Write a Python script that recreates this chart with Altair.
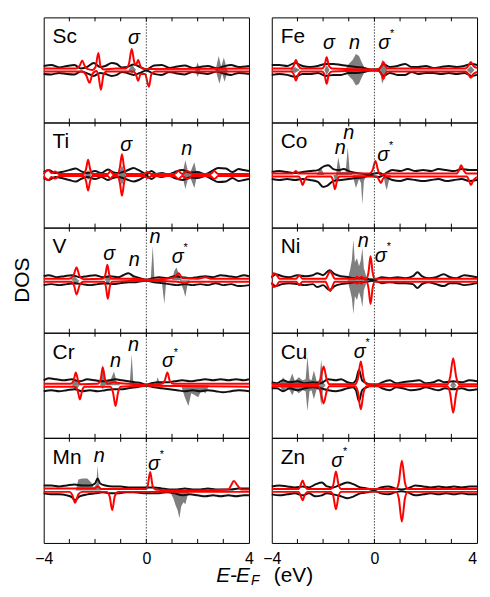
import altair as alt
import pandas as pd

FONT = "Liberation Sans"

LEFT = ["Sc", "Ti", "V", "Cr", "Mn"]
RIGHT = ["Fe", "Co", "Ni", "Cu", "Zn"]
SIDE_TEXT = ["", "", "DOS", "", ""]
E_TICKS = [-3, -2, -1, 0, 1, 2, 3]
E_LABELS = [-4, 0, 4]
FERMI = [0.0]

# ---------------- Sc ----------------
SC_BLK_UP = [[-4,4],[-3.7,5],[-3.4,2.5],[-3.1,4],[-2.8,5],[-2.55,1.5],[-2.3,3],[-2.05,7],[-1.8,3],[-1.6,4],[-1.35,7],[-1.15,6],[-0.95,2.5],[-0.75,3],[-0.5,5.5],[-0.25,3],[0,0.5],[0.3,4.5],[0.6,5],[0.9,2],[1.2,3.5],[1.5,4.5],[1.8,2],[2.1,3],[2.4,4],[2.75,1.5],[3.0,3.5],[3.3,5],[3.6,3],[4,4]]
SC_BLK_DN = [[-4,-4],[-3.7,-4.5],[-3.4,-3],[-3.1,-4],[-2.8,-4.5],[-2.55,-1.5],[-2.3,-3.5],[-2.05,-6],[-1.8,-3],[-1.6,-4],[-1.35,-6],[-1.15,-5],[-0.95,-2],[-0.75,-3],[-0.5,-5],[-0.25,-3],[0,-0.5],[0.3,-4],[0.6,-5],[0.9,-2],[1.2,-3.5],[1.5,-4.5],[1.8,-2],[2.1,-3],[2.4,-4],[2.75,-1.5],[3.0,-3.5],[3.3,-5],[3.6,-3],[4,-4]]
SC_RED_UP = [[-4,1.5],[-2.75,1.5],[-2.6,4],[-2.5,9.5],[-2.4,4],[-2.3,1],[-2.1,0],[-1.98,3],[-1.87,17],[-1.78,3],[-1.65,0.5],[-1.2,1.5],[-0.8,1.5],[-0.68,6],[-0.57,21],[-0.47,8],[-0.4,5],[-0.32,10],[-0.22,3],[-0.1,1],[4,1.5]]
SC_RED_DN = [[-4,-1.5],[-2.5,-1.5],[-2.35,-5],[-2.21,-13],[-2.1,-4],[-1.95,-1],[-1.87,-5],[-1.77,-20],[-1.67,-5],[-1.55,-1.5],[-0.5,-1.5],[-0.4,-5],[-0.32,-11],[-0.22,-4],[-0.05,-4],[0.1,-17],[0.2,-4],[0.35,-1.5],[4,-1.5]]
SC_GRAY_UP = [[-0.7,0],[-0.55,5],[-0.4,0],[1.9,0],[2.0,7.5],[2.1,0],[2.7,0],[2.82,14],[2.92,3],[3.02,12.5],[3.15,0]]
SC_GRAY_DN = [[-0.7,0],[-0.55,-4],[-0.4,0],[1.9,0],[2.0,-7],[2.1,0],[2.7,0],[2.85,-14],[2.95,-3],[3.05,-12],[3.18,0]]

# ---------------- Ti ----------------
TI_BLK_UP = [[-4,3],[-3.8,5],[-3.55,2],[-3.3,3],[-3.0,5],[-2.75,6.5],[-2.55,4],[-2.3,2],[-2.0,4],[-1.75,2],[-1.5,5.5],[-1.3,3],[-1.1,2],[-0.8,4],[-0.5,7],[-0.3,5],[-0.1,2],[0,0.5],[0.2,4],[0.4,1],[0.6,2],[0.85,0.5],[1.1,3],[1.4,5],[1.7,2.5],[2.0,3],[2.3,1],[2.55,4],[2.8,7],[3.1,6.5],[3.35,3],[3.6,6],[3.8,5],[4,4]]
TI_BLK_DN = [[-4,-3],[-3.8,-5],[-3.55,-2],[-3.3,-3],[-3.0,-5],[-2.75,-6.5],[-2.55,-4],[-2.3,-2],[-2.0,-4],[-1.75,-2],[-1.5,-5],[-1.3,-3],[-1.1,-2],[-0.8,-4],[-0.5,-6.5],[-0.3,-5],[-0.1,-2],[0,-0.5],[0.2,-4],[0.4,-1],[0.6,-2],[0.85,-0.5],[1.1,-3],[1.4,-5],[1.7,-2.5],[2.0,-3],[2.3,-1],[2.55,-4],[2.8,-7],[3.1,-6.5],[3.35,-3],[3.6,-6],[3.8,-5],[4,-4]]
TI_RED_UP = [[-4,1],[-3.9,4],[-3.8,5],[-3.7,2],[-3.55,3.5],[-3.4,1],[-2.45,1],[-2.35,6],[-2.27,15.5],[-2.19,6],[-2.1,1],[-1.5,1],[-1.4,4],[-1.3,1],[-1.12,1],[-1.03,8],[-0.95,21],[-0.87,8],[-0.78,1],[-0.1,1],[0.05,3],[0.2,1],[1.1,1],[1.25,4],[1.4,1],[1.6,4],[1.8,1],[2.5,1],[2.65,4],[2.8,1],[4,1]]
TI_RED_DN = [[-4,-1],[-3.9,-4],[-3.8,-5],[-3.7,-2],[-3.55,-3.5],[-3.4,-1],[-2.45,-1],[-2.35,-6],[-2.27,-15.7],[-2.19,-6],[-2.1,-1],[-1.5,-1],[-1.4,-4],[-1.3,-1],[-1.12,-1],[-1.03,-8],[-0.95,-21],[-0.87,-8],[-0.78,-1],[-0.1,-1],[0.05,-3],[0.2,-1],[1.1,-1],[1.25,-4],[1.4,-1],[1.6,-4],[1.8,-1],[2.5,-1],[2.65,-4],[2.8,-1],[4,-1]]
TI_GRAY_UP = [[-2.4,0],[-2.27,5],[-2.15,0],[-1.1,0],[-0.95,10],[-0.8,0],[1.4,0],[1.52,15],[1.62,4],[1.72,3],[1.87,13],[1.98,0]]
TI_GRAY_DN = [[-2.4,0],[-2.27,-5],[-2.15,0],[-1.1,0],[-0.95,-10],[-0.8,0],[1.4,0],[1.52,-14],[1.62,-4],[1.72,-3],[1.87,-13],[1.98,0]]

# ---------------- V ----------------
V_BLK_UP = [[-4,4],[-3.8,5],[-3.5,3],[-3.2,4],[-2.9,5],[-2.6,3],[-2.3,4],[-2.0,5],[-1.7,3],[-1.4,4],[-1.1,3],[-0.9,5],[-0.7,7],[-0.5,4],[-0.25,2],[0,0.5],[0.25,2],[0.5,3],[0.8,2],[1.1,4],[1.4,3],[1.7,2],[2.0,3],[2.3,4],[2.6,3],[2.9,5],[3.2,4],[3.5,3],[3.8,5],[4,4]]
V_BLK_DN = [[-4,-5],[-3.7,-4],[-3.4,-5],[-3.1,-4],[-2.8,-3],[-2.5,-4],[-2.2,-5],[-1.9,-4],[-1.6,-3],[-1.3,-4],[-1.0,-3],[-0.7,-2],[-0.4,-2],[0,-0.5],[0.3,-2],[0.6,-3],[0.9,-4],[1.2,-5],[1.5,-4],[1.8,-5],[2.1,-4],[2.4,-5],[2.7,-3],[3.0,-5],[3.3,-4],[3.6,-6],[4,-5]]
V_RED_UP = [[-4,1.5],[-3.0,1.5],[-2.85,4],[-2.72,12.8],[-2.6,4],[-2.45,1],[-1.7,1.5],[-1.6,5],[-1.52,15.5],[-1.44,5],[-1.35,1.5],[-0.5,1.5],[0,0.5],[0.8,1.5],[1.1,3],[1.26,7],[1.4,2],[2.0,1.5],[2.3,3],[2.5,1.5],[4,1.5]]
V_RED_DN = [[-4,-1.5],[-2.95,-1.5],[-2.82,-5],[-2.72,-14.5],[-2.6,-5],[-2.45,-1.5],[-1.65,-1.5],[-1.58,-6],[-1.5,-18.8],[-1.42,-6],[-1.32,-1.5],[0,-0.5],[1.2,-1.5],[1.5,-3],[1.7,-1.5],[4,-1.5]]
V_GRAY_UP = [[-2.95,0],[-2.8,4],[-2.65,0],[-1.65,0],[-1.5,5],[-1.35,0],[-0.65,0],[-0.5,4],[-0.35,0],[0.17,0],[0.25,34.5],[0.32,0],[1.0,0],[1.1,10],[1.18,12.8],[1.3,3],[1.4,0]]
V_GRAY_DN = [[-2.9,0],[-2.75,-5],[-2.6,0],[-1.6,0],[-1.5,-6],[-1.4,0],[0.6,0],[0.7,-24],[0.78,0],[1.3,0],[1.45,-10],[1.52,-17],[1.6,-5],[1.7,0]]

# ---------------- Cr ----------------
CR_BLK_UP = [[-4,5],[-3.8,7],[-3.5,6],[-3.2,5],[-2.9,6],[-2.6,4],[-2.3,6],[-2.0,5],[-1.7,4],[-1.45,5],[-1.2,6],[-0.95,5],[-0.7,4],[-0.45,3],[-0.2,2],[0,0.5],[0.2,2],[0.5,3],[0.8,3],[1.1,4],[1.4,5],[1.7,4],[2.0,5],[2.3,6],[2.6,5],[2.9,6],[3.2,5],[3.5,6],[3.8,5],[4,6]]
CR_BLK_DN = [[-4,-6],[-3.7,-5],[-3.4,-6],[-3.1,-5],[-2.8,-4],[-2.5,-6],[-2.2,-5],[-1.9,-6],[-1.6,-5],[-1.3,-4],[-1.0,-4],[-0.7,-3],[-0.4,-2],[0,-0.5],[0.3,-2],[0.6,-3],[0.9,-4],[1.2,-5],[1.5,-6],[1.8,-5],[2.1,-6],[2.4,-5],[2.7,-6],[3.0,-7],[3.3,-6],[3.6,-5],[4,-6]]
CR_RED_UP = [[-4,1.5],[-2.95,1.5],[-2.83,5],[-2.75,13],[-2.65,4],[-2.55,1],[-1.9,1.5],[-1.78,6],[-1.7,18.3],[-1.6,5],[-1.5,1.5],[-1.3,3],[-1.0,2],[-0.6,1.5],[0,0.5],[0.6,1.5],[0.72,5],[0.82,13],[0.92,4],[1.05,1.5],[4,1.5]]
CR_RED_DN = [[-4,-1.5],[-2.8,-1.5],[-2.68,-5],[-2.59,-14.3],[-2.5,-5],[-2.4,-1.5],[-1.4,-1.5],[-1.3,-7],[-1.2,-21],[-1.1,-7],[-1.0,-1.5],[0,-0.5],[4,-1.5]]
CR_GRAY_UP = [[-2.9,0],[-2.8,5],[-2.65,3],[-2.55,0],[-1.8,0],[-1.7,20.7],[-1.6,3],[-1.4,5],[-1.26,14],[-1.15,3],[-1.0,0],[-0.65,0],[-0.57,30.7],[-0.5,0],[0.35,0],[0.44,8],[0.55,0]]
CR_GRAY_DN = [[-2.9,0],[-2.75,-5],[-2.6,0],[-1.8,0],[-1.7,-4],[-1.6,0],[1.35,0],[1.5,-12],[1.64,-21],[1.75,-8],[1.9,-10],[2.02,-12],[2.15,-5],[2.3,-8],[2.45,0]]

# ---------------- Mn ----------------
MN_BLK_UP = [[-4,5],[-3.7,5],[-3.4,4],[-3.1,5],[-2.8,6],[-2.5,5],[-2.2,5],[-2.0,7],[-1.9,12],[-1.8,7],[-1.6,5],[-1.3,4],[-1.0,4],[-0.7,3],[-0.4,3],[0,3],[0.3,3],[0.6,2],[0.9,1],[1.2,1],[1.5,2],[1.8,1],[2.1,1],[2.4,2],[2.7,1],[3.0,1],[3.3,1],[3.6,2],[4,2]]
MN_BLK_DN = [[-4,-3],[-3.7,-4],[-3.4,-4],[-3.1,-5],[-2.9,-7],[-2.78,-10],[-2.6,-6],[-2.3,-4],[-2.0,-3],[-1.7,-2],[-1.4,-3],[-1.1,-3],[-0.8,-2],[-0.5,-2],[0,-3],[0.4,-3],[0.8,-2],[1.1,-3],[1.4,-5],[1.7,-4],[2.0,-5],[2.3,-6],[2.6,-5],[2.9,-6],[3.2,-5],[3.5,-6],[3.8,-5],[4,-5]]
MN_RED_UP = [[-4,2],[-2.0,2],[-1.9,4],[-1.75,1.5],[0,1.5],[0.05,4],[0.15,18.6],[0.25,4],[0.35,1],[1.0,0],[2.0,0],[3.2,1],[3.3,5],[3.41,9.6],[3.55,5],[3.7,1],[4,1]]
MN_RED_DN = [[-4,-1.5],[-3.0,-1.5],[-2.88,-5],[-2.78,-12.5],[-2.65,-4],[-2.5,-1.5],[-1.55,-1.5],[-1.43,-6],[-1.33,-20],[-1.23,-6],[-1.1,-1.5],[4,-1.5]]
MN_GRAY_UP = [[-2.75,0],[-2.65,11],[-2.5,12],[-2.3,12],[-2.15,8],[-2.05,3],[-1.95,6],[-1.9,25],[-1.85,6],[-1.75,0]]
MN_GRAY_DN = [[0.9,0],[1.05,-8],[1.14,-15],[1.22,-20],[1.29,-28],[1.36,-16],[1.45,-12],[1.52,-14],[1.6,-6],[1.7,0]]

# ---------------- Fe ----------------
FE_BLK_UP = [[-4,5],[-3.7,5],[-3.4,4],[-3.1,7],[-2.8,4],[-2.5,3],[-2.2,4],[-1.9,6],[-1.6,6],[-1.3,5],[-1.0,4],[-0.7,3],[-0.4,2],[-0.15,0.5],[0.15,0.5],[0.35,6],[0.6,3],[0.9,4],[1.2,6],[1.45,3],[1.7,3],[2.0,4],[2.3,2],[2.6,3],[2.9,4],[3.2,3],[3.5,4],[3.8,6],[4,5]]
FE_BLK_DN = [[-4,-5],[-3.7,-4],[-3.4,-5],[-3.1,-7],[-2.8,-4],[-2.5,-4],[-2.2,-3],[-1.9,-6],[-1.6,-5],[-1.3,-5],[-1.0,-3],[-0.7,-3],[-0.4,-2],[-0.15,-0.5],[0.15,-0.5],[0.35,-6],[0.6,-3],[0.9,-5],[1.2,-5],[1.45,-2],[1.7,-4],[2.0,-3],[2.3,-3],[2.6,-4],[2.9,-3],[3.2,-4],[3.5,-3],[3.8,-6],[4,-5]]
FE_RED_UP = [[-4,1.5],[-3.25,1.5],[-3.15,4],[-3.06,10],[-2.96,4],[-2.85,1.5],[-2.05,1.5],[-1.95,4],[-1.86,12.7],[-1.77,4],[-1.65,1.5],[0,0.5],[0.2,1.5],[0.27,4],[0.35,7.7],[0.43,4],[0.5,1.5],[3.55,1.5],[3.66,4],[3.76,8],[3.86,4],[4,2]]
FE_RED_DN = [[-4,-1.5],[-3.25,-1.5],[-3.15,-4],[-3.06,-10.7],[-2.96,-4],[-2.85,-1.5],[-2.05,-1.5],[-1.95,-4],[-1.86,-14],[-1.77,-4],[-1.65,-1.5],[0,-0.5],[0.2,-1.5],[0.27,-4],[0.35,-9],[0.43,-4],[0.5,-1.5],[3.55,-1.5],[3.66,-4],[3.76,-8],[3.86,-4],[4,-2]]
FE_GRAY_UP = [[-3.3,0],[-3.1,3],[-2.9,0],[-1.95,0],[-1.86,5],[-1.75,0],[-1.15,0],[-1.0,6],[-0.85,10],[-0.72,16],[-0.6,14],[-0.5,8],[-0.4,3],[-0.3,0],[0.22,0],[0.3,10],[0.4,8],[0.5,0],[3.6,0],[3.76,4],[3.9,0]]
FE_GRAY_DN = [[-3.3,0],[-3.1,-3],[-2.9,0],[-1.95,0],[-1.86,-5],[-1.75,0],[-1.15,0],[-1.0,-6],[-0.85,-10],[-0.72,-15.7],[-0.6,-14],[-0.5,-8],[-0.4,-3],[-0.3,0],[0.22,0],[0.3,-14],[0.4,-8],[0.5,0],[3.6,0],[3.76,-4],[3.9,0]]

# ---------------- Co ----------------
CO_BLK_UP = [[-4,3],[-3.7,4],[-3.4,3],[-3.1,2],[-2.8,3],[-2.5,4],[-2.2,5],[-1.95,9],[-1.8,10],[-1.6,6],[-1.4,5],[-1.2,6],[-1.0,4],[-0.7,2],[-0.4,1],[-0.1,-1],[0.2,-2],[0.45,2],[0.7,5],[1.0,4],[1.3,6],[1.6,4],[1.9,5],[2.2,4],[2.5,6],[2.8,5],[3.1,4],[3.4,6],[3.7,5],[4,5]]
CO_BLK_DN = [[-4,-4],[-3.7,-5],[-3.4,-4],[-3.1,-5],[-2.8,-4],[-2.5,-5],[-2.2,-7],[-2.0,-12],[-1.85,-11],[-1.6,-6],[-1.3,-5],[-1.0,-4],[-0.7,-3],[-0.4,-2],[-0.1,1],[0.2,2],[0.45,-2],[0.7,-5],[1.0,-6],[1.3,-4],[1.6,-5],[1.9,-6],[2.2,-5],[2.5,-4],[2.8,-6],[3.1,-5],[3.4,-4],[3.7,-6],[4,-5]]
CO_RED_UP = [[-4,1.5],[-3.2,1.5],[-3.06,4],[-2.95,1.5],[-0.2,1.5],[-0.07,5],[0.04,14.3],[0.14,5],[0.25,0],[0.5,1.5],[3.2,1.5],[3.3,5],[3.38,10],[3.47,5],[3.6,1.5],[4,1.5]]
CO_RED_DN = [[-4,-1.5],[-2.95,-1.5],[-2.88,-4],[-2.8,-10],[-2.7,-4],[-2.6,-1.5],[-1.7,-1.5],[-1.62,-5],[-1.54,-14.3],[-1.45,-5],[-1.35,-1.5],[0.1,-1.5],[0.18,-5],[0.25,-8],[0.33,-4],[0.45,-1.5],[3.6,-1.5],[3.68,-5],[3.76,-10],[3.86,-5],[4,-2]]
CO_GRAY_UP = [[-2.25,0],[-2.1,8],[-1.95,0],[-1.5,0],[-1.41,18],[-1.3,3],[-1.12,3],[-1.04,28],[-0.96,3],[-0.85,0]]
CO_GRAY_DN = [[-1.6,0],[-1.5,-8],[-1.4,0],[-0.85,0],[-0.72,-13],[-0.6,-4],[-0.52,-8],[-0.47,-30],[-0.41,-6],[-0.3,0],[0.35,0],[0.42,-10],[0.48,-15],[0.56,-6],[0.65,0]]

# ---------------- Ni ----------------
NI_BLK_UP = [[-4,3],[-3.85,6],[-3.6,4],[-3.3,3],[-3.0,5],[-2.7,4],[-2.4,5],[-2.23,7],[-2.0,5],[-1.75,10],[-1.55,6],[-1.3,4],[-1.0,3],[-0.8,2],[-0.5,2],[-0.2,1],[0,0.5],[0.3,3],[0.6,2],[0.9,3],[1.2,2],[1.5,4],[1.68,8],[1.85,4],[2.1,2],[2.4,3],[2.7,6],[2.95,3],[3.2,2],[3.5,5],[3.8,4],[4,3]]
NI_BLK_DN = [[-4,-3],[-3.85,-6],[-3.6,-4],[-3.3,-3],[-3.0,-4],[-2.7,-5],[-2.4,-4],[-2.23,-7],[-2.0,-5],[-1.75,-10],[-1.55,-6],[-1.3,-4],[-1.0,-3],[-0.8,-2],[-0.5,-2],[-0.2,-1],[0,-0.5],[0.3,-3],[0.6,-2],[0.9,-3],[1.2,-3],[1.5,-4],[1.68,-8],[1.85,-4],[2.1,-2],[2.4,-4],[2.7,-6],[2.95,-3],[3.2,-3],[3.5,-5],[3.8,-4],[4,-3]]
NI_RED_UP = [[-4,2],[-3.92,7],[-3.8,5],[-3.7,1.5],[-3.05,1.5],[-2.93,5],[-2.8,1.5],[-1.9,1.5],[-1.82,5],[-1.73,9],[-1.63,5],[-1.55,1.5],[-0.75,1.5],[-0.68,3.5],[-0.6,1.5],[-0.5,3.5],[-0.42,1.5],[-0.3,1.5],[-0.23,8],[-0.15,24],[-0.07,8],[0,1.5],[4,1.5]]
NI_RED_DN = [[-4,-2],[-3.92,-7],[-3.8,-5],[-3.7,-1.5],[-3.05,-1.5],[-2.93,-5],[-2.8,-1.5],[-1.9,-1.5],[-1.82,-6],[-1.73,-11],[-1.63,-6],[-1.55,-1.5],[-0.75,-1.5],[-0.68,-3.5],[-0.6,-1.5],[-0.5,-3.5],[-0.42,-1.5],[-0.3,-1.5],[-0.23,-8],[-0.15,-24],[-0.07,-8],[0,-1.5],[4,-1.5]]
NI_GRAY_UP = [[-1.05,0],[-0.95,10],[-0.88,20],[-0.82,40.8],[-0.76,18],[-0.68,22],[-0.6,14],[-0.53,20],[-0.47,32.5],[-0.41,12],[-0.33,5],[-0.25,0]]
NI_GRAY_DN = [[-1.05,0],[-0.95,-10],[-0.88,-18],[-0.82,-34],[-0.76,-16],[-0.68,-20],[-0.6,-12],[-0.53,-18],[-0.47,-27],[-0.41,-10],[-0.33,-4],[-0.25,0]]

# ---------------- Cu ----------------
CU_BLK_UP = [[-4,3],[-3.8,2],[-3.56,5],[-3.3,3],[-3.0,4],[-2.7,2],[-2.4,3],[-2.1,2],[-1.8,6],[-1.5,5],[-1.3,6],[-1.05,3],[-0.85,2],[-0.72,5],[-0.6,15.7],[-0.48,5],[-0.3,2],[-0.1,0.5],[0.1,0.5],[0.3,3],[0.6,5],[0.85,2],[1.1,3],[1.4,4],[1.75,5],[2.0,2],[2.3,3],[2.5,5],[2.75,3],[3.07,4],[3.4,3],[3.7,5],[4,4]]
CU_BLK_DN = [[-4,-3],[-3.8,-3],[-3.56,-6],[-3.3,-3],[-3.0,-5],[-2.7,-3],[-2.4,-2],[-2.1,-3],[-1.8,-5],[-1.5,-6],[-1.3,-5],[-1.05,-3],[-0.85,-2],[-0.72,-5],[-0.6,-16],[-0.48,-5],[-0.3,-2],[-0.1,-0.5],[0.1,-0.5],[0.3,-3],[0.6,-5],[0.85,-2],[1.1,-3],[1.4,-5],[1.75,-4],[2.0,-2],[2.3,-4],[2.5,-5],[2.75,-3],[3.07,-4],[3.4,-3],[3.7,-5],[4,-4]]
CU_RED_UP = [[-4,1],[-2.2,1],[-2.1,6],[-1.98,19],[-1.86,6],[-1.75,1],[-0.75,1],[-0.64,7],[-0.53,24],[-0.42,7],[-0.3,1],[2.85,1],[2.95,8],[3.07,27.3],[3.19,8],[3.3,1],[4,1]]
CU_RED_DN = [[-4,-1],[-2.2,-1],[-2.1,-6],[-1.98,-18.3],[-1.86,-6],[-1.75,-1],[-0.75,-1],[-0.64,-7],[-0.53,-24.3],[-0.42,-7],[-0.3,-1],[2.85,-1],[2.95,-8],[3.07,-27.7],[3.19,-8],[3.3,-1],[4,-1]]
CU_GRAY_UP = [[-3.7,0],[-3.56,8],[-3.45,3],[-3.3,5],[-3.2,12],[-3.1,4],[-2.95,8],[-2.8,5],[-2.68,6],[-2.61,29],[-2.53,6],[-2.45,5],[-2.36,15],[-2.25,4],[-2.15,5],[-2.07,25.7],[-2.0,3],[-1.9,0],[2.95,0],[3.07,4],[3.2,0]]
CU_GRAY_DN = [[-3.7,0],[-3.56,-7],[-3.45,-3],[-3.3,-5],[-3.2,-10],[-3.1,-4],[-2.95,-8],[-2.8,-5],[-2.68,-6],[-2.61,-26],[-2.53,-6],[-2.45,-5],[-2.36,-14],[-2.25,-4],[-2.15,-5],[-2.07,-21],[-2.0,-3],[-1.9,0],[2.95,0],[3.07,-4],[3.2,0]]

# ---------------- Zn ----------------
ZN_BLK_UP = [[-4,4],[-3.7,5],[-3.4,4],[-3.1,3],[-2.8,4],[-2.55,3],[-2.3,6],[-2.05,8],[-1.85,4],[-1.6,3],[-1.3,6],[-1.05,8],[-0.8,6],[-0.55,3],[-0.3,2],[0,0.5],[0.25,3],[0.55,4],[0.8,2],[1.05,1],[1.3,2],[1.6,5],[1.9,4],[2.2,3],[2.5,4],[2.8,3],[3.1,4],[3.4,3],[3.7,4],[4,4]]
ZN_BLK_DN = [[-4,-4],[-3.7,-5],[-3.4,-4],[-3.1,-3],[-2.8,-5],[-2.55,-3],[-2.3,-6],[-2.05,-5],[-1.85,-3],[-1.6,-4],[-1.3,-6],[-1.05,-8],[-0.8,-6],[-0.55,-3],[-0.3,-2],[0,-0.5],[0.25,-3],[0.55,-4],[0.8,-2],[1.05,-1],[1.3,-2],[1.6,-5],[1.9,-4],[2.2,-3],[2.5,-4],[2.8,-3],[3.1,-4],[3.4,-3],[3.7,-4],[4,-4]]
ZN_RED_UP = [[-4,1.5],[-2.95,1.5],[-2.88,5],[-2.8,10],[-2.72,5],[-2.6,1.5],[-1.7,1.5],[-1.6,6],[-1.5,19],[-1.4,6],[-1.3,1.5],[0.85,1.5],[0.95,8],[1.07,30],[1.19,8],[1.3,1.5],[4,1.5]]
ZN_RED_DN = [[-4,-1.5],[-2.95,-1.5],[-2.88,-5],[-2.8,-10],[-2.72,-5],[-2.6,-1.5],[-1.7,-1.5],[-1.6,-6],[-1.5,-19],[-1.4,-6],[-1.3,-1.5],[0.85,-1.5],[0.95,-8],[1.07,-31.5],[1.19,-8],[1.3,-1.5],[4,-1.5]]
ZN_GRAY_UP = [[1.0,0],[1.07,2],[1.14,0]]
ZN_GRAY_DN = [[1.0,0],[1.07,-2],[1.14,0]]

# ---------------- annotations: [label, E, DOS] ----------------
ANN_SC = [["σ", -0.48, 32]]
ANN_TI = [["σ", -0.78, 30], ["n", 1.58, 26]]
ANN_V = [["σ", -1.45, 26], ["n", -0.47, 20], ["n", 0.34, 43], ["σ*", 1.22, 23]]
ANN_CR = [["n", -1.2, 24], ["n", -0.5, 41], ["σ*", 0.84, 24]]
ANN_MN = [["n", -1.83, 35], ["σ*", 0.3, 27]]
ANN_FE = [["σ", -1.77, 27], ["n", -0.78, 27], ["σ*", 0.38, 27]]
ANN_CO = [["n", -1.33, 27], ["n", -1.0, 42], ["σ*", 0.34, 20]]
ANN_NI = [["n", -0.43, 39], ["σ*", 0.25, 24]]
ANN_CU = [["σ*", -0.57, 34]]
ANN_ZN = [["σ*", -1.45, 30]]

DATA = {
    "Sc": (SC_GRAY_UP, SC_GRAY_DN, SC_BLK_UP, SC_BLK_DN, SC_RED_UP, SC_RED_DN, ANN_SC),
    "Ti": (TI_GRAY_UP, TI_GRAY_DN, TI_BLK_UP, TI_BLK_DN, TI_RED_UP, TI_RED_DN, ANN_TI),
    "V": (V_GRAY_UP, V_GRAY_DN, V_BLK_UP, V_BLK_DN, V_RED_UP, V_RED_DN, ANN_V),
    "Cr": (CR_GRAY_UP, CR_GRAY_DN, CR_BLK_UP, CR_BLK_DN, CR_RED_UP, CR_RED_DN, ANN_CR),
    "Mn": (MN_GRAY_UP, MN_GRAY_DN, MN_BLK_UP, MN_BLK_DN, MN_RED_UP, MN_RED_DN, ANN_MN),
    "Fe": (FE_GRAY_UP, FE_GRAY_DN, FE_BLK_UP, FE_BLK_DN, FE_RED_UP, FE_RED_DN, ANN_FE),
    "Co": (CO_GRAY_UP, CO_GRAY_DN, CO_BLK_UP, CO_BLK_DN, CO_RED_UP, CO_RED_DN, ANN_CO),
    "Ni": (NI_GRAY_UP, NI_GRAY_DN, NI_BLK_UP, NI_BLK_DN, NI_RED_UP, NI_RED_DN, ANN_NI),
    "Cu": (CU_GRAY_UP, CU_GRAY_DN, CU_BLK_UP, CU_BLK_DN, CU_RED_UP, CU_RED_DN, ANN_CU),
    "Zn": (ZN_GRAY_UP, ZN_GRAY_DN, ZN_BLK_UP, ZN_BLK_DN, ZN_RED_UP, ZN_RED_DN, ANN_ZN),
}

W, H = 207, 106
SIDE_W = 12
TITLE_H = 45
YDOM = [-53, 53]
XSCALE = alt.Scale(domain=[-4, 4], nice=False, zero=False)
NOSTROKE = alt.ViewBackground(stroke="transparent")


def pts(p):
    return pd.DataFrame(p, columns=["E", "v"])


def panel(el, label_values):
    g_up, g_dn, b_up, b_dn, r_up, r_dn, ann = DATA[el]
    if label_values:
        ax = alt.Axis(values=label_values, ticks=False, tickSize=0, domain=False, grid=False,
                      labelFontSize=16, labelFont=FONT, labelColor="black",
                      labelPadding=8, labelFlush=False, title=None)
    else:
        ax = None
    xenc = alt.X("E:Q", scale=XSCALE, axis=ax)
    yenc = alt.Y("v:Q", scale=alt.Scale(domain=YDOM, nice=False, zero=False), axis=None)
    layers = []
    for g in (g_up, g_dn):
        layers.append(alt.Chart(pts(g)).mark_area(color="#7f7f7f", interpolate="linear")
                      .encode(x=xenc, y=yenc, y2=alt.datum(0)))
    for b in (b_up, b_dn):
        layers.append(alt.Chart(pts(b)).mark_line(color="#111111", strokeWidth=2, interpolate="monotone")
                      .encode(x=xenc, y=yenc))
    for r in (r_up, r_dn):
        layers.append(alt.Chart(pts(r)).mark_line(color="#ff0000", strokeWidth=2, interpolate="monotone")
                      .encode(x=xenc, y=yenc))
    layers.append(alt.Chart(pd.DataFrame({"E": FERMI})).mark_rule(color="#444444", strokeWidth=1, strokeDash=[1.5, 1.5])
                  .encode(x=xenc))
    tk = pd.DataFrame({"E": E_TICKS})
    layers.append(alt.Chart(tk).mark_rule(color="black", strokeWidth=1)
                  .encode(x=xenc, y=alt.value(0), y2=alt.value(4)))
    layers.append(alt.Chart(tk).mark_rule(color="black", strokeWidth=1)
                  .encode(x=xenc, y=alt.value(H), y2=alt.value(H - 4)))
    layers.append(alt.Chart(pd.DataFrame({"t": [el]})).mark_text(
        align="left", baseline="alphabetic", font=FONT, fontSize=21, color="black")
        .encode(x=alt.value(9), y=alt.value(26), text="t:N"))
    adf = pd.DataFrame([[a[0][0], a[0][1:], a[1], a[2]] for a in ann], columns=["t", "s", "E", "v"])
    layers.append(alt.Chart(adf).mark_text(font=FONT, fontSize=20, fontStyle="italic", align="center",
                                           baseline="middle", color="black")
                  .encode(x=xenc, y=yenc, text="t:N"))
    layers.append(alt.Chart(adf).mark_text(font=FONT, fontSize=11, align="center", baseline="middle",
                                           dx=8, dy=-9, color="black")
                  .encode(x=xenc, y=yenc, text="s:N"))
    return alt.layer(*layers).properties(width=W, height=H,
                                         view=alt.ViewBackground(stroke="black", strokeWidth=1))


one = pd.DataFrame({"a": [0]})


def anchor():
    # invisible rule at the left edge so the page keeps its left edge
    return alt.Chart(one).mark_rule(opacity=0, strokeWidth=1).encode(
        x=alt.value(0.5), y=alt.value(0), y2=alt.value(H))


def side(i):
    txt = alt.Chart(pd.DataFrame({"t": [SIDE_TEXT[i]]})).mark_text(
        angle=270, font=FONT, fontSize=21, align="center", baseline="alphabetic", color="black"
    ).encode(x=alt.value(20), y=alt.value(53), text="t:N")
    return alt.layer(anchor(), txt).properties(width=SIDE_W, height=H, view=NOSTROKE)


def piece(txt, x, y, size, italic):
    return alt.Chart(one).mark_text(
        text=txt, font=FONT, fontSize=size, fontStyle=("italic" if italic else "normal"),
        align="left", baseline="alphabetic", color="black").encode(x=alt.value(x), y=alt.value(y))


blank_left = alt.Chart(one).mark_text(text="").encode(x=alt.value(0), y=alt.value(0)).properties(
    width=SIDE_W, height=TITLE_H, view=NOSTROKE)

xtitle = alt.layer(
    piece("E", 174, 39, 21, True),
    piece("-", 188, 39, 21, False),
    piece("E", 194, 39, 21, True),
    piece("F", 209, 42, 14, True),
    piece("(eV)", 232, 39, 21, False),
).properties(width=W, height=TITLE_H, view=NOSTROKE)

# last tick label of the right column, kept inside the page
right_label = alt.Chart(pd.DataFrame({"E": [E_LABELS[-1]], "t": [str(E_LABELS[-1])]})).mark_text(
    font=FONT, fontSize=16, align="right", baseline="top", color="black"
).encode(x=alt.X("E:Q", scale=XSCALE, axis=None), y=alt.value(8), text="t:N").properties(
    width=W, height=TITLE_H, view=NOSTROKE)

cells = []
for i in range(5):
    cells += [side(i),
              panel(LEFT[i], E_LABELS if i == 4 else None),
              panel(RIGHT[i], E_LABELS[:2] if i == 4 else None)]
cells += [blank_left, xtitle, right_label]

chart = alt.concat(*cells, columns=3, spacing={"row": 0, "column": 23}, bounds="flush",
                   padding={"left": 0, "top": 6, "right": 0, "bottom": 0}).configure_view(stroke="black")

chart.save("out.html", embed_options={"renderer": "svg", "actions": False})
